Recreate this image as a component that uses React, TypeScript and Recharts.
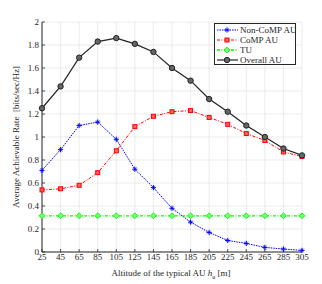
import React from 'react';
import { LineChart, Line, XAxis, YAxis, CartesianGrid } from 'recharts';

const altitudes = [25, 45, 65, 85, 105, 125, 145, 165, 185, 205, 225, 245, 265, 285, 305];
const nonCompAU = [0.71, 0.89, 1.10, 1.13, 0.98, 0.72, 0.56, 0.38, 0.26, 0.17, 0.10, 0.075, 0.04, 0.026, 0.014];
const compAU = [0.54, 0.55, 0.58, 0.69, 0.88, 1.09, 1.18, 1.22, 1.23, 1.17, 1.11, 1.03, 0.97, 0.87, 0.83];
const tu = [0.315, 0.315, 0.315, 0.315, 0.315, 0.315, 0.315, 0.315, 0.315, 0.315, 0.315, 0.315, 0.315, 0.315, 0.315];
const overallAU = [1.25, 1.44, 1.69, 1.83, 1.86, 1.81, 1.74, 1.60, 1.49, 1.33, 1.22, 1.10, 1.00, 0.90, 0.84];
const xTicks = [25, 45, 65, 85, 105, 125, 145, 165, 185, 205, 225, 245, 265, 285, 305];
const yTicks = [0, 0.2, 0.4, 0.6, 0.8, 1, 1.2, 1.4, 1.6, 1.8, 2];

const data = altitudes.map((x, i) => ({
  x,
  nonComp: nonCompAU[i],
  comp: compAU[i],
  tu: tu[i],
  overall: overallAU[i],
}));

const FONT = '"Liberation Serif", "DejaVu Serif", serif';
const AX = '#262626';

const PlusDot = (props: any) => {
  const { cx, cy } = props;
  if (cx == null || cy == null) return null;
  return (
    <g stroke="#0000ff" strokeWidth={1}>
      <line x1={cx - 2.6} y1={cy} x2={cx + 2.6} y2={cy} />
      <line x1={cx} y1={cy - 2.6} x2={cx} y2={cy + 2.6} />
      <line x1={cx - 1.8} y1={cy - 1.8} x2={cx + 1.8} y2={cy + 1.8} strokeWidth={0.6} />
      <line x1={cx - 1.8} y1={cy + 1.8} x2={cx + 1.8} y2={cy - 1.8} strokeWidth={0.6} />
    </g>
  );
};
const SquareDot = (props: any) => {
  const { cx, cy } = props;
  if (cx == null || cy == null) return null;
  return <rect x={cx - 2} y={cy - 2} width={4} height={4} fill="#ff6060" stroke="#ff0000" strokeWidth={1} />;
};
const DiamondDot = (props: any) => {
  const { cx, cy } = props;
  if (cx == null || cy == null) return null;
  return <path d={`M${cx},${cy - 2.9} L${cx + 2.9},${cy} L${cx},${cy + 2.9} L${cx - 2.9},${cy} Z`} fill="#7dff7d" stroke="#00ff00" strokeWidth={1} />;
};
const CircleDot = (props: any) => {
  const { cx, cy } = props;
  if (cx == null || cy == null) return null;
  return <circle cx={cx} cy={cy} r={2.7} fill="#666" stroke="#222" strokeWidth={1} />;
};
const EmptyTick = () => <g />;

const legendItems = [
  { label: 'Non-CoMP AU', color: '#0000ff', dash: '1.5 1', width: 1, marker: 'plus' },
  { label: 'CoMP AU', color: '#ff0000', dash: '3 1.5 1 1.5', width: 1, marker: 'square' },
  { label: 'TU', color: '#00ff00', dash: '3 1.5 1 1.5', width: 1.3, marker: 'diamond' },
  { label: 'Overall AU', color: '#222', dash: undefined, width: 1.2, marker: 'circle' },
];

const LegendMarker = ({ m }: { m: string }) => {
  const cx = 11, cy = 5;
  if (m === 'plus') return <PlusDot cx={cx} cy={cy} />;
  if (m === 'square') return <SquareDot cx={cx} cy={cy} />;
  if (m === 'diamond') return <DiamondDot cx={cx} cy={cy} />;
  return <CircleDot cx={cx} cy={cy} />;
};

export default function App() {
  return (
    <div style={{ position: 'absolute', left: 0, top: 0, width: 322, height: 284, background: '#fff', fontFamily: FONT }}>
      <LineChart width={322} height={284} data={data} margin={{ top: 22, right: 20, bottom: 0, left: 12 }}>
        <CartesianGrid stroke="#e3e3e3" strokeWidth={0.7} verticalValues={xTicks} horizontalValues={yTicks} />
        <XAxis
          dataKey="x"
          type="number"
          domain={[25, 305]}
          ticks={xTicks}
          interval={0}
          height={32}
          stroke={AX}
          tickSize={-3}
          tickMargin={5}
          tickLine={{ stroke: AX, strokeWidth: 0.8 }}
          tick={{ fill: AX, fontSize: 9, fontFamily: FONT }}
        />
        <XAxis xAxisId="top" orientation="top" dataKey="x" type="number" domain={[25, 305]} ticks={xTicks} interval={0} height={0} stroke={AX} tickSize={-3} tick={<EmptyTick />} tickLine={{ stroke: AX, strokeWidth: 0.8 }} />
        <YAxis
          domain={[0, 2]}
          ticks={yTicks}
          interval={0}
          width={30}
          stroke={AX}
          tickSize={-3}
          tickMargin={6}
          tickLine={{ stroke: AX, strokeWidth: 0.8 }}
          tick={{ fill: AX, fontSize: 9, fontFamily: FONT }}
          tickFormatter={(v: number) => String(Math.round(v * 10) / 10)}
        />
        <YAxis yAxisId="right" orientation="right" domain={[0, 2]} ticks={yTicks} interval={0} width={0} stroke={AX} tickSize={-3} tick={<EmptyTick />} tickLine={{ stroke: AX, strokeWidth: 0.8 }} />
        <Line dataKey="nonComp" stroke="#0000ff" strokeWidth={1} strokeDasharray="1.5 1" dot={<PlusDot />} isAnimationActive={false} />
        <Line dataKey="comp" stroke="#ff0000" strokeWidth={1} strokeDasharray="3 1.5 1 1.5" dot={<SquareDot />} isAnimationActive={false} />
        <Line dataKey="tu" stroke="#00ff00" strokeWidth={1.3} strokeDasharray="3 1.5 1 1.5" dot={<DiamondDot />} isAnimationActive={false} />
        <Line dataKey="overall" stroke="#222" strokeWidth={1.2} dot={<CircleDot />} isAnimationActive={false} />
      </LineChart>
      <div
        style={{
          position: 'absolute', left: 16, top: 137, transform: 'translate(-50%, -50%) rotate(-90deg)',
          whiteSpace: 'nowrap', fontSize: 9, color: AX,
        }}
      >
        Average Achievable Rate&nbsp;&nbsp;[bits/sec/Hz]
      </div>
      <div
        style={{
          position: 'absolute', left: 171, top: 274, transform: 'translate(-50%, -50%)',
          whiteSpace: 'nowrap', fontSize: 9, color: AX,
        }}
      >
        Altitude of the typical AU <i>h</i><sub style={{ fontSize: 6 }}>u</sub> [m]
      </div>
      <div
        style={{
          position: 'absolute', left: 214, top: 23, width: 82, height: 42, boxSizing: 'border-box',
          background: '#fff', border: `0.8px solid ${AX}`, padding: '1px 1px', fontSize: 9, color: AX,
        }}
      >
        {legendItems.map((it) => (
          <div key={it.label} style={{ display: 'flex', alignItems: 'center', height: 10, lineHeight: '10px' }}>
            <svg width={23} height={10} style={{ flex: 'none' }}>
              <line x1={1} y1={5} x2={22} y2={5} stroke={it.color} strokeWidth={it.width} strokeDasharray={it.dash} />
              <LegendMarker m={it.marker} />
            </svg>
            <span style={{ marginLeft: 1, whiteSpace: 'nowrap' }}>{it.label}</span>
          </div>
        ))}
      </div>
    </div>
  );
}
